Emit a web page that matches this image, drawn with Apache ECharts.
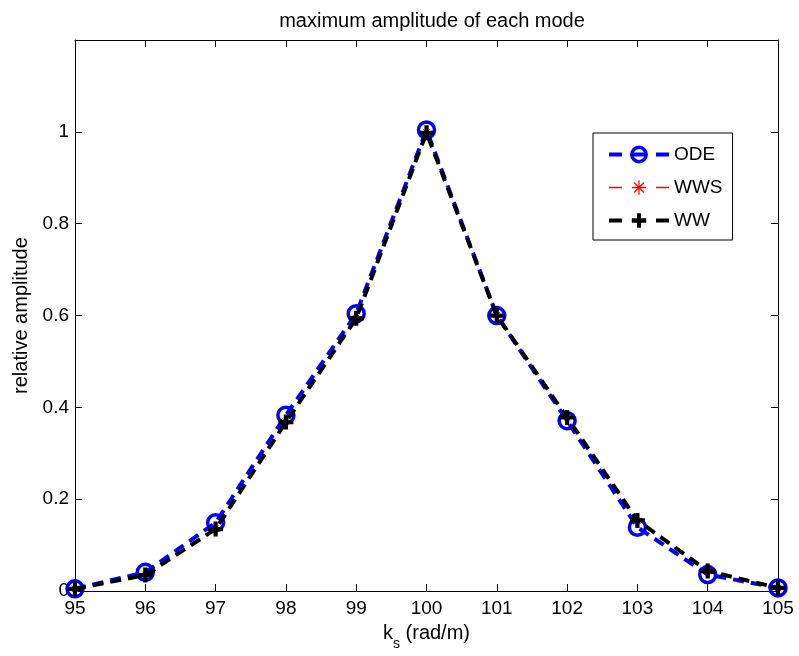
<!DOCTYPE html>
<html>
<head>
<meta charset="utf-8">
<script src="https://cdn.jsdelivr.net/npm/echarts@6/dist/echarts.min.js"></script>
<style>
  html, body { margin: 0; padding: 0; background: #fff; }
  #chart { width: 799px; height: 656px; }
</style>
</head>
<body>
<div id="chart"></div>
<script>
// Wavenumber samples k_s (rad/m)
const ks = [95, 96, 97, 98, 99, 100, 101, 102, 103, 104, 105];
// Relative amplitude of each mode for the three methods
const odeAmp = [0.005, 0.041, 0.149, 0.383, 0.604, 1.004, 0.600, 0.371, 0.139, 0.036, 0.007];
const wwsAmp = [0.005, 0.036, 0.137, 0.369, 0.595, 0.999, 0.601, 0.378, 0.153, 0.043, 0.007];
const wwAmp  = [0.005, 0.035, 0.135, 0.368, 0.594, 0.998, 0.600, 0.378, 0.154, 0.044, 0.007];
const yTicks = [0, 0.2, 0.4, 0.6, 0.8, 1];

const FONT = 'Liberation Sans';
const FS = 19;      // tick labels and legend
const FS_T = 20;    // title and axis names

const pair = (ys) => ks.map((k, i) => [k, ys[i]]);

const plusPath = 'path://M3.6,0H6.4V3.6H10V6.4H6.4V10H3.6V6.4H0V3.6H3.6Z';
const starPath = 'path://M0,5L10,5M5,0L5,10M1.5,1.5L8.5,8.5M8.5,1.5L1.5,8.5';

const chart = echarts.init(document.getElementById('chart'), null, { renderer: 'canvas' });

const tickStyle = { show: true, inside: true, length: 7, lineStyle: { color: '#000', width: 1 } };
const lineAx = { show: true, onZero: false, lineStyle: { color: '#000', width: 1 } };
// legend segments: dash, marker, dash
const legendDash = [13, 10, 14, 10, 13, 0];

chart.setOption({
  backgroundColor: '#fff',
  animation: false,
  title: {
    text: 'maximum amplitude of each mode',
    left: 427,
    top: 6,
    textAlign: 'center',
    textStyle: { fontFamily: FONT, fontSize: FS_T, fontWeight: 'normal', color: '#000' }
  },
  grid: { left: 75, right: 21, top: 40, bottom: 62, containLabel: false },
  legend: {
    orient: 'vertical',
    left: 593,
    top: 133,
    width: 138,
    padding: [12, 10, 10, 14],
    itemGap: 14,
    itemWidth: 60,
    itemHeight: 18,
    backgroundColor: '#fff',
    borderColor: '#000',
    borderWidth: 1,
    textStyle: { fontFamily: FONT, fontSize: FS, color: '#000' },
    data: [
      { name: 'ODE', lineStyle: { color: '#0000ff', type: legendDash, width: 4 }, itemStyle: { borderColor: '#0000ff', borderWidth: 3.5 } },
      { name: 'WWS', lineStyle: { color: '#ff0000', opacity: 1, type: legendDash, width: 1.5 }, itemStyle: { borderColor: '#ff0000', borderWidth: 1.2 } },
      { name: 'WW', lineStyle: { color: '#000', type: legendDash, width: 4 } }
    ]
  },
  xAxis: [
    {
      type: 'value', min: 95, max: 105, interval: 1,
      axisLine: lineAx, axisTick: tickStyle, splitLine: { show: false },
      axisLabel: { fontFamily: FONT, fontSize: FS, color: '#000', margin: 8 },
      name: '{k|k}{s|s}{k| (rad/m)}',
      nameLocation: 'middle',
      nameGap: 31,
      nameTextStyle: {
        rich: {
          k: { fontFamily: FONT, fontSize: FS_T, color: '#000', verticalAlign: 'top', lineHeight: 20 },
          s: { fontFamily: FONT, fontSize: 14, color: '#000', verticalAlign: 'bottom', lineHeight: 28 }
        }
      }
    },
    {
      type: 'value', position: 'top', min: 95, max: 105, interval: 1,
      axisLine: lineAx, axisTick: tickStyle, axisLabel: { show: false }, splitLine: { show: false }
    }
  ],
  yAxis: [
    {
      type: 'value', min: 0, max: 1.2, interval: 0.2,
      axisLine: lineAx, axisTick: tickStyle, splitLine: { show: false },
      axisLabel: {
        fontFamily: FONT, fontSize: FS, color: '#000', margin: 6,
        formatter: (v) => {
          const r = Math.round(v * 10) / 10;
          return yTicks.indexOf(r) >= 0 ? String(r) : '';
        }
      },
      name: 'relative amplitude',
      nameLocation: 'middle',
      nameGap: 44,
      nameTextStyle: { fontFamily: FONT, fontSize: FS_T, color: '#000' }
    },
    {
      type: 'value', position: 'right', min: 0, max: 1.2, interval: 0.2,
      axisLine: lineAx, axisTick: tickStyle, axisLabel: { show: false }, splitLine: { show: false }
    }
  ],
  series: [
    {
      name: 'ODE',
      type: 'line',
      data: pair(odeAmp),
      symbol: 'circle',
      symbolSize: 16,
      showAllSymbol: true,
      itemStyle: { color: 'rgba(0,0,0,0)', borderColor: '#0000ff', borderWidth: 3.5 },
      lineStyle: { color: '#0000ff', width: 4, type: [11, 7] },
      z: 2
    },
    {
      name: 'WWS',
      type: 'line',
      data: pair(wwsAmp),
      symbol: starPath,
      symbolSize: 9,
      showAllSymbol: true,
      itemStyle: { color: 'rgba(0,0,0,0)', borderColor: '#ff0000', borderWidth: 1 },
      lineStyle: { color: '#ff0000', width: 1, type: [11, 7] },
      z: 3
    },
    {
      name: 'WW',
      type: 'line',
      data: pair(wwAmp),
      symbol: plusPath,
      symbolSize: 15,
      showAllSymbol: true,
      itemStyle: { color: '#000' },
      lineStyle: { color: '#000', width: 4, type: [11, 7] },
      z: 4
    }
  ]
});
</script>
</body>
</html>
